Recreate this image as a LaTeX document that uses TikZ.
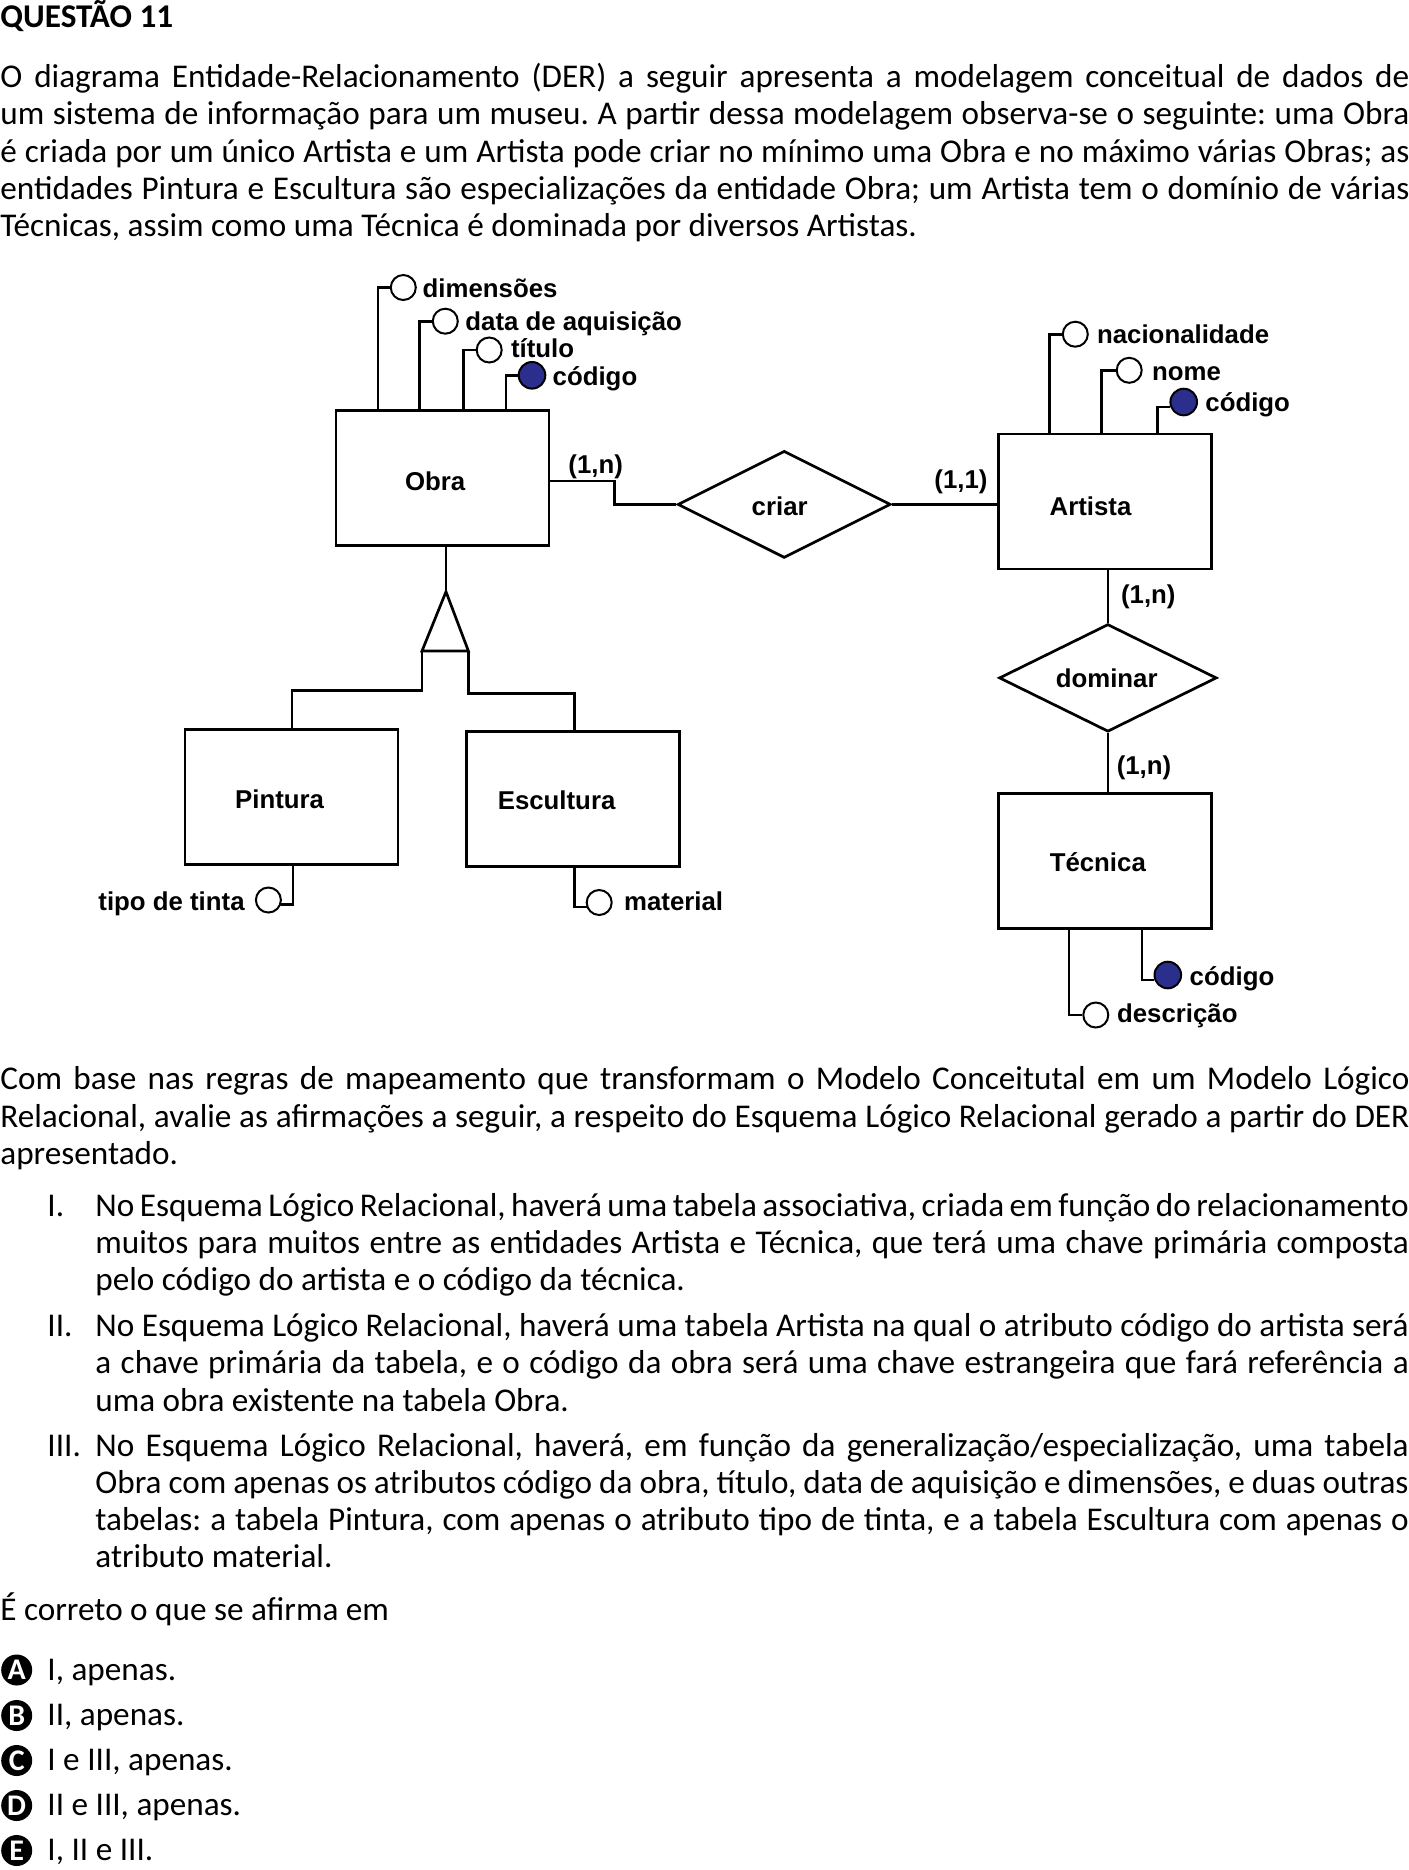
\documentclass[tikz,border=0pt]{standalone}
\usepackage{fontspec}
\setmainfont{Carlito}
\newfontfamily\hv{Liberation Sans}
\usetikzlibrary{shapes.geometric,calc}
\definecolor{keyblue}{RGB}{43,46,140}
\newlength{\fullw}\setlength{\fullw}{704.5pt}
\newlength{\itemw}\setlength{\itemw}{656.65pt}
\newcommand{\J}[2]{\makebox[#1][s]{#2}}
\newcommand{\bodyfont}{\fontsize{16.6}{20}\selectfont\frenchspacing\spaceskip=0.226em plus 1em minus 0.1em\relax}
\newcommand{\dfont}{\hv\bfseries\fontsize{12.9}{15}\selectfont}
\frenchspacing
\begin{document}
\begin{tikzpicture}[x=0.5pt,y=-0.5pt,
  bodyline/.style={anchor=base west, inner sep=0, font=\bodyfont},
  ent/.style={draw, line width=1.35pt, inner sep=0, minimum width=106.5pt, minimum height=67.5pt},
  rel/.style={draw, diamond, line width=1.35pt, inner sep=0},
  lbl/.style={anchor=base, inner sep=0, font=\dfont},
  card/.style={inner sep=0, font=\dfont},
  conn/.style={line width=1.35pt},
  attr/.style={circle, draw, fill=white, line width=1pt, inner sep=0, minimum size=12.5pt},
  keyattr/.style={circle, draw, fill=keyblue, line width=1pt, inner sep=0, minimum size=13.3pt},
  atxt/.style={anchor=base west, inner sep=0, font=\dfont},
  optc/.style={circle, fill=black, text=white, inner sep=0, minimum size=15.5pt, font=\fontsize{15}{15}\selectfont\bfseries}
]
\useasboundingbox (0,0) rectangle (1409,1870);
\fill[white] (0,0) rectangle (1409,1870);

% ---------- title and first paragraph ----------
\node[anchor=base west, inner sep=0, font=\bodyfont\bfseries] (title) at (0,27.5) {QUESTÃO 11};
\node[bodyline] (p1a) at (0,87.5) {\J{\fullw}{O diagrama Entidade-Relacionamento (DER) a seguir apresenta a modelagem conceitual de dados de}};
\node[bodyline] (p1b) at (0,124.8) {\J{\fullw}{um sistema de informação para um museu. A partir dessa modelagem observa-se o seguinte: uma Obra}};
\node[bodyline] (p1c) at (0,162.1) {\J{\fullw}{é criada por um único Artista e um Artista pode criar no mínimo uma Obra e no máximo várias Obras; as}};
\node[bodyline] (p1d) at (0,199.4) {\J{\fullw}{entidades Pintura e Escultura são especializações da entidade Obra; um Artista tem o domínio de várias}};
\node[bodyline] (p1e) at (0,236.7) {Técnicas, assim como uma Técnica é dominada por diversos Artistas.};

% ---------- entities ----------
\node[ent] (obra) at (442.5,478) {};
\node[ent] (artista) at (1104.65,501.5) {};
\node[ent] (pintura) at (291.4,796.65) {};
\node[ent] (escultura) at (572.85,799.2) {};
\node[ent] (tecnica) at (1105,860.8) {};
\node[lbl] (obraL) at (435.2,490) {Obra};
\node[lbl] (artistaL) at (1090.5,515) {Artista};
\node[lbl] (pinturaL) at (279.6,808.3) {Pintura};
\node[lbl] (esculturaL) at (556.6,809.3) {Escultura};
\node[lbl] (tecnicaL) at (1097.8,871.7) {Técnica};

% ---------- relationships ----------
\node[rel, minimum width=106.5pt, minimum height=53.5pt] (criar) at (784.2,504.4) {};
\node[rel, minimum width=108.8pt, minimum height=53.8pt] (dominar) at (1107.9,677.9) {};
\node[lbl] (criarL) at (779.7,515) {criar};
\node[lbl] (dominarL) at (1106.7,687.7) {dominar};
\coordinate (k1) at (614.3,481);
\draw[conn] (obra.east |- k1) -- (k1) |- (criar.west);
\draw[conn] (criar.east) -- (criar.east -| artista.west);
\draw[conn] (dominar.north |- artista.south) -- (dominar.north);
\draw[conn] (dominar.south) -- (dominar.south |- tecnica.north);
\node[card] (c1) at (595.7,467) {(1,n)};
\node[card] (c2) at (961,482) {(1,1)};
\node[card] (c3) at (1148.3,596.7) {(1,n)};
\node[card] (c4) at (1144,768.3) {(1,n)};

% ---------- specialization ----------
\coordinate (apex) at (446,591.7);
\coordinate (bl) at (422,651);
\coordinate (br) at (468.4,651);
\coordinate (pinTop) at ($(pintura.north west)+(108.5,0)$);
\coordinate (escTop) at ($(escultura.north west)+(109.8,0)$);
\draw[conn] (apex |- obra.south) -- (apex);
\draw[conn, line join=miter] (apex) -- (bl) -- (br) -- cycle;
\draw[conn] (bl) -- (bl |- 0,690.7) -| (pinTop);
\draw[conn] (br) -- (br |- 0,693.3) -| (escTop);

% ---------- Obra attributes ----------
\node[attr] (dimC) at (403.3,287.5) {};
\node[attr] (datC) at (445.3,321.2) {};
\node[attr] (titC) at (489.2,350) {};
\node[keyattr] (obCodC) at (532,375.3) {};
\draw[conn] ($(obra.north west)+(43.3,0)$) |- (dimC.west);
\draw[conn] ($(obra.north west)+(85,0)$) |- (datC.west);
\draw[conn] ($(obra.north west)+(129,0)$) |- (titC.west);
\draw[conn] ($(obra.north west)+(171.3,0)$) |- (obCodC.west);
\node[atxt] (dimT) at (422.3,297.3) {dimensões};
\node[atxt] (datT) at (465,330.7) {data de aquisição};
\node[atxt] (titT) at (510.7,357.3) {título};
\node[atxt] (obCodT) at (552.3,385) {código};

% ---------- Artista attributes ----------
\node[attr] (nacC) at (1075.3,334.2) {};
\node[attr] (nomC) at (1129.2,370.3) {};
\node[keyattr] (arCodC) at (1183.7,402) {};
\draw[conn] ($(artista.north west)+(53,0)$) |- (nacC.west);
\draw[conn] ($(artista.north west)+(105,0)$) |- (nomC.west);
\draw[conn] ($(artista.north west)+(160.7,0)$) |- (arCodC.200);
\node[atxt] (nacT) at (1096.7,343.5) {nacionalidade};
\node[atxt] (nomT) at (1151.7,380) {nome};
\node[atxt] (arCodT) at (1205,411.7) {código};

% ---------- Técnica attributes ----------
\node[attr] (desC) at (1095.8,1015) {};
\node[keyattr] (teCodC) at (1167.8,975) {};
\draw[conn] ($(tecnica.south west)+(71.7,0)$) |- (desC.west);
\draw[conn] ($(tecnica.south west)+(144.7,0)$) |- (teCodC.200);
\node[atxt] (desT) at (1116.7,1022) {descrição};
\node[atxt] (teCodT) at (1189.3,985) {código};

% ---------- Pintura / Escultura attributes ----------
\node[attr] (tinC) at (268.4,900) {};
\node[attr] (matC) at (599.2,902.5) {};
\draw[conn] ($(pintura.south west)+(109.4,0)$) |- (tinC.340);
\draw[conn] ($(escultura.south west)+(109.8,0)$) |- (matC.200);
\node[anchor=base east, inner sep=0, font=\dfont] (tinT) at (245,910) {tipo de tinta};
\node[atxt] (matT) at (623.8,910) {material};

% ---------- second paragraph ----------
\node[bodyline] (p2a) at (0,1089.7) {\J{\fullw}{Com base nas regras de mapeamento que transformam o Modelo Conceitutal em um Modelo Lógico}};
\node[bodyline] (p2b) at (0,1127) {\J{\fullw}{Relacional, avalie as afirmações a seguir, a respeito do Esquema Lógico Relacional gerado a partir do DER}};
\node[bodyline] (p2c) at (0,1164.3) {apresentado.};

% ---------- items ----------
\node[bodyline] (n1) at (47,1216) {I.};
\node[bodyline] (i1a) at (95,1216) {\J{\itemw}{No Esquema Lógico Relacional, haverá uma tabela associativa, criada em função do relacionamento}};
\node[bodyline] (i1b) at (95,1253.2) {\J{\itemw}{muitos para muitos entre as entidades Artista e Técnica, que terá uma chave primária composta}};
\node[bodyline] (i1c) at (95,1290.4) {pelo código do artista e o código da técnica.};
\node[bodyline] (n2) at (47,1336.6) {II.};
\node[bodyline] (i2a) at (95,1336.6) {\J{\itemw}{No Esquema Lógico Relacional, haverá uma tabela Artista na qual o atributo código do artista será}};
\node[bodyline] (i2b) at (95,1373.8) {\J{\itemw}{a chave primária da tabela, e o código da obra será uma chave estrangeira que fará referência a}};
\node[bodyline] (i2c) at (95,1411) {uma obra existente na tabela Obra.};
\node[bodyline] (n3) at (47,1456) {III.};
\node[bodyline] (i3a) at (95,1456) {\J{\itemw}{No Esquema Lógico Relacional, haverá, em função da generalização/especialização, uma tabela}};
\node[bodyline] (i3b) at (95,1493.3) {\J{\itemw}{Obra com apenas os atributos código da obra, título, data de aquisição e dimensões, e duas outras}};
\node[bodyline] (i3c) at (95,1530.6) {\J{\itemw}{tabelas: a tabela Pintura, com apenas o atributo tipo de tinta, e a tabela Escultura com apenas o}};
\node[bodyline] (i3d) at (95,1567.9) {atributo material.};

\node[bodyline] (ask) at (0,1620.6) {É correto o que se afirma em};

% ---------- options ----------
\node[optc] (oA) at (16.7,1670) {A};
\node[optc] (oB) at (16.7,1715.5) {B};
\node[optc] (oC) at (16.7,1760.5) {C};
\node[optc] (oD) at (16.7,1805.5) {D};
\node[optc] (oE) at (16.7,1850.5) {E};
\node[bodyline] (tA) at (47,1680.7) {I, apenas.};
\node[bodyline] (tB) at (47,1725.7) {II, apenas.};
\node[bodyline] (tC) at (47,1770.5) {I e III, apenas.};
\node[bodyline] (tD) at (47,1815.5) {II e III, apenas.};
\node[bodyline] (tE) at (47,1860.5) {I, II e III.};
\end{tikzpicture}
\end{document}
